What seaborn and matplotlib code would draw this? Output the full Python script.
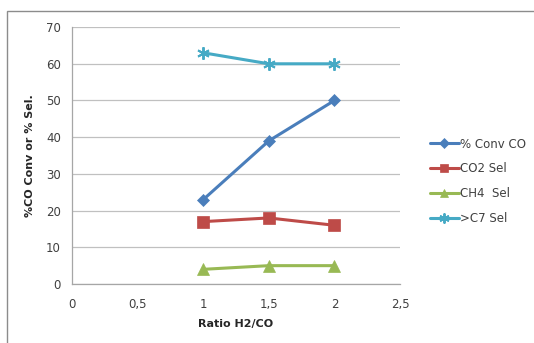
import matplotlib
matplotlib.use("Agg")
import matplotlib.pyplot as plt
import matplotlib.patches as mpatches
import seaborn as sns
import pandas as pd

ratio = [1.0, 1.5, 2.0]
conv_co = [23, 39, 50]
co2_sel = [17, 18, 16]
ch4_sel = [4, 5, 5]
c7_sel = [63, 60, 60]

series_names = ["% Conv CO", "CO2 Sel", "CH4  Sel", ">C7 Sel"]
series_values = [conv_co, co2_sel, ch4_sel, c7_sel]
colors = ["#4A7EBB", "#BE4B48", "#98B954", "#46AAC5"]
markers = ["D", "s", "^", (6, 2, 0)]
msizes = [6, 8, 8, 9]

x_ticks = [0, 0.5, 1, 1.5, 2, 2.5]
x_ticklabels = ["0", "0,5", "1", "1,5", "2", "2,5"]
y_ticks = [0, 10, 20, 30, 40, 50, 60, 70]

rows = []
for name, vals in zip(series_names, series_values):
    for x, v in zip(ratio, vals):
        rows.append({"ratio": x, "value": v, "series": name})
df = pd.DataFrame(rows)

sns.set_style("white")
plt.rcParams["font.family"] = ["DejaVu Sans"]

fig = plt.figure(figsize=(5.34, 3.43), dpi=100)
ax = fig.add_axes([0.135, 0.172, 0.614, 0.749])

# outer chart frame
fig.patches.append(mpatches.Rectangle((7 / 534, -0.05), 1.1, 0.968 + 0.05,
                                      transform=fig.transFigure, fill=False,
                                      edgecolor="#8C8C8C", linewidth=1.0))

for name, color, mk, ms in zip(series_names, colors, markers, msizes):
    sub = df[df["series"] == name]
    sns.lineplot(data=sub, x="ratio", y="value", ax=ax, color=color,
                 linewidth=2.2, marker=mk, markersize=ms,
                 markeredgecolor=color,
                 markeredgewidth=1.4 if isinstance(mk, tuple) else 0.5,
                 label=name)

ax.set_xlim(0, 2.5)
ax.set_ylim(0, 70)
ax.set_xticks(x_ticks)
ax.set_xticklabels(x_ticklabels)
ax.set_yticks(y_ticks)
ax.yaxis.grid(True, color="#C0C0C0", linewidth=0.9)
ax.xaxis.grid(False)
for s in ["top", "right"]:
    ax.spines[s].set_visible(False)
for s in ["left", "bottom"]:
    ax.spines[s].set_color("#A6A6A6")
    ax.spines[s].set_linewidth(0.9)
ax.tick_params(axis="both", which="both", direction="out", length=4,
               color="#A6A6A6", labelsize=8.5, labelcolor="#404040", pad=4)
ax.tick_params(axis="x", pad=6)

ax.set_xlabel("Ratio H2/CO", fontsize=8, fontweight="bold", color="#262626", labelpad=6)
ax.set_ylabel("%CO Conv or % Sel.", fontsize=8, fontweight="bold", color="#262626", labelpad=8)

leg = ax.legend(loc="center left", bbox_to_anchor=(1.06, 0.40), frameon=False,
                fontsize=8.5, handlelength=2.4, handletextpad=0.1, labelspacing=1.0,
                labelcolor="#404040", markerscale=0.8)

fig.savefig("out.png", dpi=100)
